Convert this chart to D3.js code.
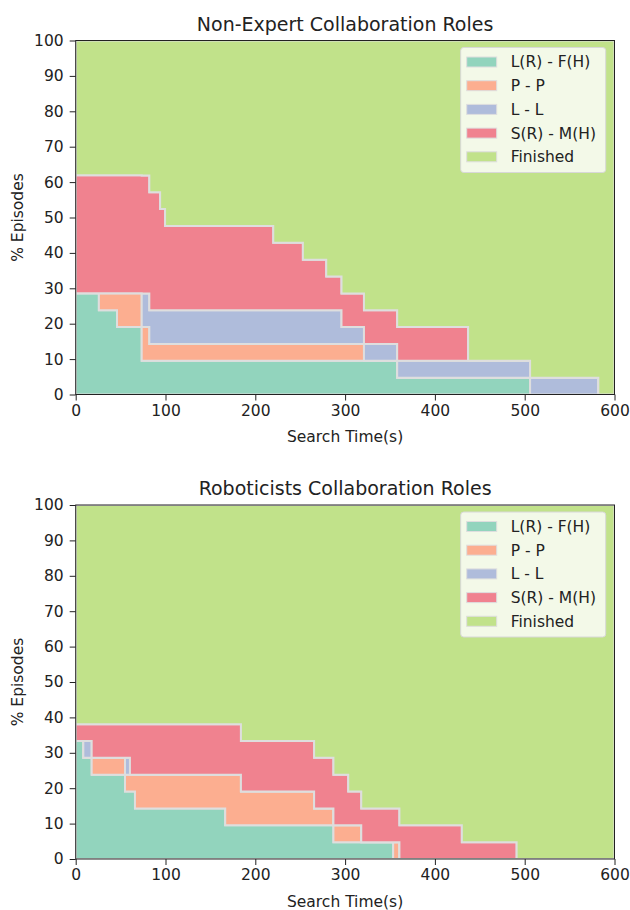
<!DOCTYPE html>
<html>
<head>
<meta charset="utf-8">
<script src="https://cdn.jsdelivr.net/npm/d3@7"></script>
<style>
  body { margin: 0; background: #fff; }
  svg { display: block; font-family: "DejaVu Sans", sans-serif; }
</style>
</head>
<body>
<svg id="chart" width="630" height="910"></svg>
<script>
// legend / stacking order, bottom to top
var seriesNames = ['L(R) - F(H)', 'P - P', 'L - L', 'S(R) - M(H)', 'Finished'];
var seriesColors = ['#92d4bd', '#fcae90', '#afbcdb', '#f0828f', '#c1e28a'];
var xTicks = [0, 100, 200, 300, 400, 500, 600];
var yTicks = [0, 10, 20, 30, 40, 50, 60, 70, 80, 90, 100];

// Non-Expert: % of episodes in each role, step after each time (s)
var nonExpertTime     = [0, 25.8, 46, 73.5, 82, 94, 99.5, 220, 253, 279, 296, 321, 358, 437, 506, 582, 600];
var nonExpertLF       = [28.57, 23.81, 19.05, 9.52, 9.52, 9.52, 9.52, 9.52, 9.52, 9.52, 9.52, 9.52, 4.76, 4.76, 0, 0, 0];
var nonExpertPP       = [0, 4.76, 9.52, 9.52, 4.76, 4.76, 4.76, 4.76, 4.76, 4.76, 4.76, 0, 0, 0, 0, 0, 0];
var nonExpertLL       = [0, 0, 0, 9.52, 9.52, 9.52, 9.52, 9.52, 9.52, 9.52, 4.76, 4.76, 4.76, 4.76, 4.76, 0, 0];
var nonExpertSM       = [33.33, 33.33, 33.33, 33.33, 33.33, 28.57, 23.81, 19.05, 14.29, 9.52, 9.52, 9.52, 9.52, 0, 0, 0, 0];
var nonExpertFinished = [38.1, 38.1, 38.1, 38.1, 42.86, 47.62, 52.38, 57.14, 61.9, 66.67, 71.43, 76.19, 80.95, 90.48, 95.24, 100, 100];

// Roboticists
var roboTime     = [0, 8.5, 17.8, 54.9, 60.4, 66, 166.5, 184, 265.5, 287, 303.5, 318, 353.5, 360.5, 430, 491, 600];
var roboLF       = [33.33, 28.57, 23.81, 19.05, 19.05, 14.29, 9.52, 9.52, 9.52, 4.76, 4.76, 4.76, 0, 0, 0, 0, 0];
var roboPP       = [0, 0, 4.76, 4.76, 4.76, 9.52, 14.29, 9.52, 4.76, 4.76, 4.76, 0, 4.76, 0, 0, 0, 0];
var roboLL       = [0, 4.76, 0, 4.76, 0, 0, 0, 0, 0, 0, 0, 0, 0, 0, 0, 0, 0];
var roboSM       = [4.76, 4.76, 9.52, 9.52, 14.29, 14.29, 14.29, 14.29, 14.29, 14.29, 9.52, 9.52, 9.52, 9.52, 4.76, 0, 0];
var roboFinished = [61.9, 61.9, 61.9, 61.9, 61.9, 61.9, 61.9, 66.67, 71.43, 76.19, 80.95, 85.71, 85.71, 90.48, 95.24, 100, 100];

var svg = d3.select('#chart');
var left = 75.7, right = 614.5, plotH = 354;
var fontSize = 15.5;

var x = d3.scaleLinear().domain([0, 600]).range([left, right]);

var drawPanel = function(title, top, time, series, clipId) {
    var y = d3.scaleLinear().domain([0, 100]).range([top + plotH, top]);
    var rows = time.map(function(t, i) {
        var r = { t: t };
        seriesNames.forEach(function(name, k) { r[name] = series[k][i]; });
        return r;
    });
    var layers = d3.stack().keys(seriesNames)(rows);

    svg.append('clipPath').attr('id', clipId)
        .append('rect')
        .attr('x', left).attr('y', top)
        .attr('width', right - left).attr('height', plotH);

    var area = d3.area()
        .x(function(d) { return x(d.data.t); })
        .y0(function(d) { return y(d[0]); })
        .y1(function(d) { return y(Math.min(100, d[1])); })
        .curve(d3.curveStepAfter);

    svg.append('g').attr('clip-path', 'url(#' + clipId + ')')
        .selectAll('path')
        .data(layers)
        .enter().append('path')
        .attr('d', area)
        .attr('fill', function(d, i) { return seriesColors[i]; })
        .attr('stroke', '#dedede')
        .attr('stroke-width', 2);

    // axes
    var xAxis = svg.append('g')
        .attr('transform', 'translate(0,' + (top + plotH) + ')')
        .call(d3.axisBottom(x).tickValues(xTicks).tickSize(6).tickPadding(4));
    var yAxis = svg.append('g')
        .attr('transform', 'translate(' + left + ',0)')
        .call(d3.axisLeft(y).tickValues(yTicks).tickSize(6).tickPadding(6));
    [xAxis, yAxis].forEach(function(a) {
        a.select('.domain').remove();
        a.selectAll('text').attr('font-size', fontSize).attr('fill', '#222')
            .attr('font-family', '"DejaVu Sans", sans-serif');
        a.selectAll('line').attr('stroke', '#222');
    });

    svg.append('rect')
        .attr('x', left).attr('y', top)
        .attr('width', right - left).attr('height', plotH)
        .attr('fill', 'none').attr('stroke', '#222').attr('stroke-width', 1);

    svg.append('text')
        .attr('x', (left + right) / 2).attr('y', top - 10)
        .attr('text-anchor', 'middle')
        .attr('font-size', 19).attr('fill', '#222')
        .text(title);

    svg.append('text')
        .attr('x', (left + right) / 2).attr('y', top + plotH + 47.5)
        .attr('text-anchor', 'middle')
        .attr('font-size', fontSize).attr('fill', '#222')
        .text('Search Time(s)');

    svg.append('text')
        .attr('transform', 'translate(23,' + (top + plotH / 2) + ') rotate(-90)')
        .attr('text-anchor', 'middle')
        .attr('font-size', fontSize).attr('fill', '#222')
        .text('% Episodes');

    // legend
    var lg = svg.append('g').attr('transform', 'translate(460.7,' + (top + 7) + ')');
    lg.append('rect')
        .attr('width', 145).attr('height', 125).attr('rx', 3)
        .attr('fill', 'rgba(255,255,255,0.8)')
        .attr('stroke', '#d8d8d8').attr('stroke-width', 1);
    var items = lg.selectAll('.item')
        .data(seriesNames.slice())
        .enter().append('g')
        .attr('class', 'item')
        .attr('transform', function(d, i) { return 'translate(0,' + (14.5 + i * 23.7) + ')'; });
    items.append('rect')
        .attr('x', 6).attr('y', -5).attr('width', 30).attr('height', 10)
        .attr('fill', function(d, i) { return seriesColors[i]; })
        .attr('stroke', '#dedede').attr('stroke-width', 1);
    items.append('text')
        .attr('x', 50).attr('dy', '0.35em')
        .attr('font-size', fontSize).attr('fill', '#222')
        .text(function(d) { return d; });
};

drawPanel('Non-Expert Collaboration Roles', 40.5, nonExpertTime,
    [nonExpertLF, nonExpertPP, nonExpertLL, nonExpertSM, nonExpertFinished], 'clipTop');
drawPanel('Roboticists Collaboration Roles', 505, roboTime,
    [roboLF, roboPP, roboLL, roboSM, roboFinished], 'clipBottom');
</script>
</body>
</html>
